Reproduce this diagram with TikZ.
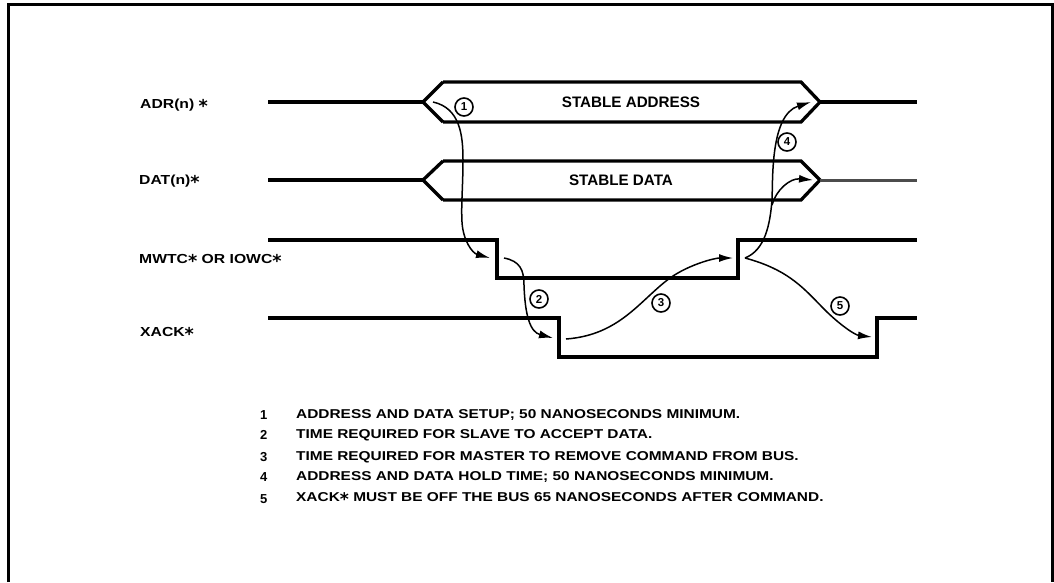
\documentclass[tikz,border=0pt]{standalone}
\usepackage{fontspec}
\setmainfont{Liberation Sans}
\newfontfamily\widefont[FakeStretch=1.2]{Liberation Sans}
\newfontfamily\starfont{DejaVu Sans}
\usetikzlibrary{arrows.meta}
\newcommand{\lowstar}{\raisebox{-0.32em}{{\starfont\bfseries\fontsize{1.35em}{1em}\selectfont *}}}
\tikzset{
  x=1pt,y=-1pt,
  frame/.style={draw=black,line width=3pt},
  signal/.style={draw=black,line width=3.3pt,line join=miter},
  causal/.style={draw=black,line width=1.5pt,-{Latex[length=14pt,width=8pt]}},
  tag/.style={circle,draw=black,line width=1.6pt,minimum size=18pt,inner sep=0pt,font=\bfseries\fontsize{11.5}{12}\selectfont},
  siglabel/.style={anchor=west,inner sep=0pt,font=\widefont\bfseries\fontsize{13.1}{15}\selectfont},
  buslabel/.style={inner sep=0pt,font=\bfseries\fontsize{15.2}{17}\selectfont},
  notenum/.style={anchor=west,inner sep=0pt,font=\bfseries\fontsize{13}{15}\selectfont},
  notetext/.style={anchor=west,inner sep=0pt,font=\widefont\bfseries\fontsize{12.85}{15}\selectfont},
}
\begin{document}
\begin{tikzpicture}
\useasboundingbox (0,0) rectangle (1054,582);
\fill[white] (0,0) rectangle (1054,582);
\draw[frame] (8.5,582) -- (8.5,4.5) -- (1052,4.5) -- (1052,582);
% signals
\draw[signal] (268,102) -- (423,102);
\draw[signal] (443,82) -- (423,102) -- (443,122);
\draw[signal] (443,82) -- (801,82) -- (820,102) -- (801,122) -- (443,122);
\draw[signal] (820,102) -- (917,102);
\draw[signal] (268,180) -- (423,180);
\draw[signal] (443,161) -- (423,180) -- (443,200);
\draw[signal] (443,161) -- (801,161) -- (820,180) -- (801,200) -- (443,200);
\draw[signal,draw=black!70,line width=3pt] (820,180) -- (917,180);
\draw[signal] (268,240) -- (497,240) -- (497,278) -- (738,278) -- (738,240) -- (917,240);
\draw[signal] (268,318) -- (559,318) -- (559,357) -- (877,357) -- (877,318) -- (917,318);
% labels
\node[siglabel] (adr) at (140,106) {ADR(n) \lowstar};
\node[siglabel] (dat) at (139,182) {DAT(n)\lowstar};
\node[siglabel] (mw) at (139,261) {MWTC\lowstar{} OR IOWC\lowstar};
\node[siglabel] (xa) at (140,334) {XACK\lowstar};
\node[buslabel] (sa) at (631,102) {STABLE ADDRESS};
\node[buslabel] (sd) at (621,180) {STABLE DATA};
% causal tags
\node[tag] (t1) at (464,107) {1};
\node[tag] (t2) at (539,299) {2};
\node[tag] (t3) at (661,303) {3};
\node[tag] (t4) at (787,142) {4};
\node[tag] (t5) at (840,306) {5};
% causal arrows
\coordinate (a1s) at (433,102);
\coordinate (a1e) at (490,258);
\coordinate (a2s) at (504,258);
\coordinate (a2e) at (553,338);
\coordinate (a3s) at (566,339);
\coordinate (a3e) at (733,258);
\coordinate (a4s) at (745,258);
\coordinate (a4e) at (811,102);
\coordinate (a4f) at (813,180);
\coordinate (a5e) at (872,337);
\draw[causal] (a1s) .. controls (460,108) and (463,135) .. (463,160) .. controls (463,185) and (461,205) .. (462,222) .. controls (463,240) and (472,253) .. (a1e);
\draw[causal] (a2s) .. controls (520,261) and (524,270) .. (524,285) .. controls (525,315) and (530,332) .. (a2e);
\draw[causal] (a3s) .. controls (620,335) and (640,300) .. (670,278) .. controls (690,264) and (715,258) .. (a3e);
\draw[causal] (a4s) .. controls (765,250) and (770,225) .. (772,200) .. controls (773,180) and (770,115) .. (a4e);
\draw[causal] (772,205) .. controls (776,190) and (790,178) .. (a4f);
\draw[causal] (a4s) .. controls (790,270) and (805,290) .. (825,310) .. controls (840,325) and (855,335) .. (a5e);
% notes
\node[notenum] (n1) at (260,415) {1};
\node[notenum] (n2) at (260,435) {2};
\node[notenum] (n3) at (260,457) {3};
\node[notenum] (n4) at (260,477) {4};
\node[notenum] (n5) at (260,499) {5};
\node[notetext] (m1) at (296,415) {ADDRESS AND DATA SETUP; 50 NANOSECONDS MINIMUM.};
\node[notetext] (m2) at (296,435) {TIME REQUIRED FOR SLAVE TO ACCEPT DATA.};
\node[notetext] (m3) at (296,457) {TIME REQUIRED FOR MASTER TO REMOVE COMMAND FROM BUS.};
\node[notetext] (m4) at (296,477) {ADDRESS AND DATA HOLD TIME; 50 NANOSECONDS MINIMUM.};
\node[notetext] (m5) at (296,499) {XACK\lowstar{} MUST BE OFF THE BUS 65 NANOSECONDS AFTER COMMAND.};
\end{tikzpicture}
\end{document}
